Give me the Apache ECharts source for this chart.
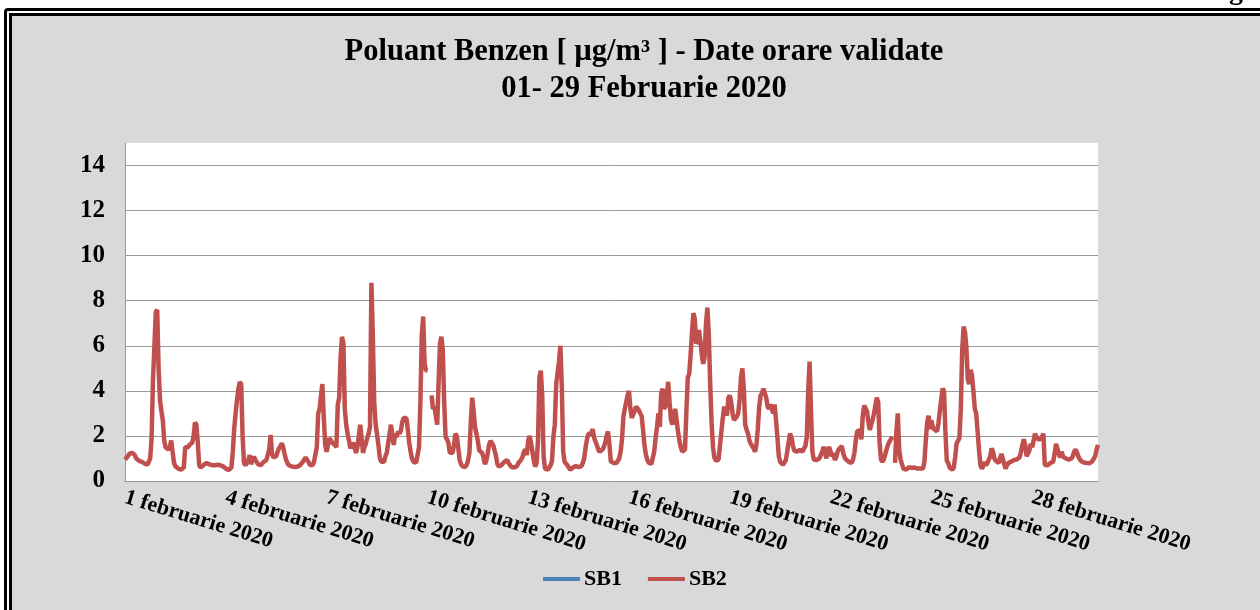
<!DOCTYPE html>
<html>
<head>
<meta charset="utf-8">
<script src="https://cdn.jsdelivr.net/npm/echarts@6/dist/echarts.min.js"></script>
<style>
  html, body { margin: 0; padding: 0; background: #fff; width: 1260px; height: 610px; overflow: hidden; }
  .frame { position: absolute; left: 4px; top: 8px; width: 1300px; height: 700px; border: 3px solid #000; border-radius: 4px 0 0 0; padding: 2px; background: #fff; }
  .frame-in { width: 100%; height: 100%; border: 3px solid #000; background: #d9d9d9; box-sizing: border-box; }
  #chart { position: absolute; left: 0; top: 0; width: 1260px; height: 610px; }
</style>
</head>
<body>
<div class="frame"><div class="frame-in"></div></div>
<div id="chart"></div>
<script>
// valori orare benzen SB2, cate 24 pe zi (ora 0..23)
var feb01 = [0.95,1.0,1.1,1.2,1.2,1.25,1.3,1.15,1.0,0.95,0.9,0.88,0.85,0.8,0.78,0.75,0.72,0.75,1.0,1.9,4.5,6.0,7.5,7.6];
var feb02 = [5.0,3.6,3.1,2.7,1.8,1.5,1.45,1.4,1.5,1.8,1.3,0.8,0.65,0.6,0.55,0.55,0.5,0.5,0.6,1.5,1.55,1.5,1.6,1.6];
var feb03 = [1.7,2.0,2.6,2.5,1.7,0.7,0.6,0.65,0.7,0.75,0.8,0.8,0.75,0.75,0.7,0.7,0.7,0.7,0.72,0.7,0.7,0.68,0.65,0.6];
var feb04 = [0.55,0.52,0.49,0.55,0.6,1.3,2.3,3.0,3.6,4.1,4.4,4.3,2.0,0.8,0.7,0.64,0.9,1.15,0.75,0.7,1.08,0.95,0.85,0.75];
var feb05 = [0.7,0.7,0.75,0.85,0.93,0.93,0.93,1.4,2.04,1.2,1.05,1.0,1.1,1.3,1.45,1.55,1.67,1.5,1.2,0.95,0.8,0.7,0.68,0.65];
var feb06 = [0.64,0.62,0.62,0.63,0.65,0.7,0.75,0.85,0.95,1.05,1.05,0.85,0.72,0.65,0.7,0.85,0.93,1.5,3.0,3.2,3.8,4.3,2.8,1.6];
var feb07 = [1.3,1.6,1.9,1.85,1.7,1.65,1.6,1.5,3.4,3.7,5.5,6.4,6.1,3.2,2.5,2.1,1.8,1.45,1.6,1.7,1.5,1.25,1.5,2.0];
var feb08 = [2.5,1.9,1.25,1.5,1.65,1.9,2.1,2.4,8.8,6.5,3.5,2.55,2.5,1.6,1.05,0.85,0.8,0.85,1.1,1.25,1.3,2.1,2.5,2.0];
var feb09 = [1.6,2.1,1.95,2.2,2.1,2.2,2.6,2.8,2.85,2.8,2.3,1.7,1.3,1.0,0.85,0.8,0.82,0.9,1.5,3.5,6.5,7.3,5.2,4.9];
var feb10 = [4.9,null,null,3.8,3.2,3.3,2.9,2.5,4.4,6.1,6.4,5.8,3.5,1.95,1.85,1.7,1.25,1.2,1.25,1.6,2.1,2.0,1.5,0.95];
var feb11 = [0.75,0.65,0.6,0.62,0.71,0.9,1.24,2.6,3.7,3.1,2.4,2.4,1.8,1.35,1.3,1.25,1.08,0.75,0.88,1.2,1.6,1.78,1.72,1.6];
var feb12 = [1.55,1.1,0.75,0.64,0.66,0.71,0.78,0.85,0.9,0.93,0.8,0.71,0.62,0.58,0.6,0.63,0.66,0.8,0.8,0.95,1.08,1.3,1.4,1.15];
var feb13 = [1.8,2.0,1.7,1.3,0.9,0.64,0.8,1.8,4.6,4.9,3.8,1.1,0.55,0.52,0.5,0.52,0.7,0.9,1.96,2.5,4.3,4.8,5.3,6.0];
var feb14 = [4.2,1.3,0.85,0.78,0.7,0.6,0.5,0.55,0.6,0.63,0.66,0.64,0.62,0.6,0.66,0.8,1.0,1.5,1.85,2.1,2.1,2.1,2.3,1.95];
var feb15 = [1.75,1.6,1.4,1.3,1.3,1.4,1.5,1.7,2.0,2.2,1.65,0.87,0.82,0.8,0.8,0.8,0.85,1.0,1.3,1.85,2.85,3.2,3.25,3.8];
var feb16 = [4.0,3.2,2.8,2.85,3.1,3.3,3.3,3.15,3.0,2.9,2.3,1.6,1.2,0.95,0.82,0.8,0.75,0.8,1.3,1.9,2.4,3.0,2.4,3.9];
var feb17 = [4.1,3.2,3.3,3.8,4.4,3.5,2.7,2.5,2.9,3.2,2.7,2.2,1.8,1.5,1.3,1.25,1.4,3.1,4.6,4.75,5.6,6.6,7.45,7.2];
var feb18 = [6.1,6.2,6.7,6.2,5.6,5.2,5.5,7.0,7.7,6.5,4.3,2.6,1.5,1.05,0.9,0.87,0.95,1.0,2.2,2.8,3.3,3.1,2.9,3.7];
var feb19 = [3.8,3.5,3.0,2.7,2.64,2.86,3.0,3.6,4.6,5.0,4.1,2.5,2.27,2.1,1.8,1.65,1.55,1.45,1.3,1.6,2.3,3.3,3.8,3.9];
var feb20 = [4.1,4.1,3.7,3.3,3.2,3.4,3.2,3.0,3.4,2.7,1.95,1.1,0.85,0.8,0.72,0.8,0.93,1.3,1.7,2.1,1.95,1.6,1.35,1.3];
var feb21 = [1.3,1.24,1.38,1.35,1.3,1.45,1.55,1.95,4.0,5.3,3.1,1.3,0.95,0.93,0.93,0.95,1.0,1.08,1.3,1.52,1.6,1.0,1.4,1.5];
var feb22 = [1.45,1.1,1.24,0.93,1.05,1.3,1.42,1.5,1.55,1.24,1.05,0.95,0.9,0.85,0.82,0.8,0.95,1.25,1.8,2.2,2.25,2.25,1.85,2.9];
var feb23 = [3.35,3.35,3.1,2.6,2.27,2.35,2.7,3.0,3.35,3.7,3.5,1.7,0.95,0.86,0.95,1.0,1.4,1.6,1.75,1.85,1.96,null,0.8,2.2];
var feb24 = [3.0,1.4,0.95,0.75,0.55,0.62,0.5,0.55,0.62,0.58,0.58,0.6,0.6,0.58,0.55,0.52,0.55,0.5,0.55,0.85,1.8,2.6,2.9,2.3];
var feb25 = [2.7,2.4,2.3,2.35,2.2,2.55,3.1,3.6,4.1,4.0,2.2,0.9,0.8,0.6,0.52,0.5,0.6,1.08,1.67,1.75,1.9,3.2,5.8,6.85];
var feb26 = [6.6,5.9,4.5,4.3,4.93,4.7,4.0,3.2,3.0,2.2,1.4,0.7,0.55,0.65,0.85,0.7,0.8,0.95,1.08,1.45,1.3,1.0,0.9,0.85];
var feb27 = [0.8,1.0,1.2,1.0,0.75,0.55,0.7,0.8,0.85,0.86,0.88,0.93,0.93,0.95,1.0,1.05,1.3,1.6,1.85,1.6,1.1,1.08,1.35,1.65];
var feb28 = [1.5,1.5,2.1,2.17,1.85,1.8,1.85,1.96,2.1,0.71,0.65,0.7,0.75,0.8,0.83,0.86,1.2,1.65,1.45,1.2,1.05,1.3,1.08,1.02];
var feb29 = [1.0,0.97,0.95,0.93,1.0,1.1,1.3,1.4,1.26,1.08,0.97,0.88,0.84,0.82,0.8,0.8,0.79,0.79,0.82,0.88,0.93,1.1,1.4,1.6];

var days = [feb01,feb02,feb03,feb04,feb05,feb06,feb07,feb08,feb09,feb10,feb11,feb12,feb13,feb14,
  feb15,feb16,feb17,feb18,feb19,feb20,feb21,feb22,feb23,feb24,feb25,feb26,feb27,feb28,feb29];

// SB1 nu are date validate in luna
var sb1 = [];
var sb2 = [].concat.apply([], days);

var categories = [];
days.forEach(function (d, i) {
  for (var h = 0; h < 24; h++) {
    categories.push((i + 1) + ' februarie 2020' + (h ? ' ' + (h < 10 ? '0' : '') + h + ':00' : ''));
  }
});

var yTicks = [0, 2, 4, 6, 8, 10, 12, 14];

var font = 'Liberation Serif, Times New Roman, serif';
var chart = echarts.init(document.getElementById('chart'));
var option = {
  backgroundColor: 'transparent',
  title: {
    text: 'Poluant Benzen [ µg/m³ ] - Date orare validate\n01- 29 Februarie 2020',
    left: 639,
    textAlign: 'center',
    top: 29,
    textStyle: { fontFamily: font, fontWeight: 'bold', fontSize: 30.5, lineHeight: 37, color: '#000' }
  },
  legend: {
    left: 538,
    top: 563,
    icon: 'rect',
    itemWidth: 37,
    itemHeight: 4,
    itemGap: 26,
    data: ['SB1', 'SB2'],
    textStyle: { fontFamily: font, fontWeight: 'bold', fontSize: 22, color: '#000', padding: [0, 0, 0, -1] }
  },
  grid: {
    left: 125, right: 162, top: 143, bottom: 129,
    show: true, backgroundColor: '#fff', borderWidth: 0
  },
  xAxis: {
    type: 'category',
    data: categories,
    boundaryGap: false,
    axisLine: { lineStyle: { color: '#999', width: 1 } },
    axisTick: { show: false },
    axisLabel: {
      interval: 71,
      rotate: -17,
      margin: 16,
      fontFamily: font, fontWeight: 'bold', fontSize: 22, color: '#000',
      formatter: function (v) { return v.split(' ').slice(0, 3).join(' '); }
    }
  },
  yAxis: {
    type: 'value',
    min: 0,
    max: 15,
    interval: 2,
    axisLine: { show: true, lineStyle: { color: '#999', width: 1 } },
    axisTick: { show: false },
    axisLabel: {
      showMaxLabel: false,
      margin: 20,
      fontFamily: font, fontWeight: 'bold', fontSize: 25, color: '#000',
      formatter: function (v) { return yTicks.indexOf(v) >= 0 ? String(v) : ''; }
    },
    splitLine: { showMaxLine: false, lineStyle: { color: '#999', width: 1 } }
  },
  series: [
    {
      name: 'SB1', type: 'line', data: sb1, symbol: 'none',
      itemStyle: { color: '#4f81bd' }, lineStyle: { color: '#4f81bd', width: 4.5 }
    },
    {
      name: 'SB2', type: 'line', data: sb2, symbol: 'none',
      itemStyle: { color: '#c0504d' }, lineStyle: { color: '#c0504d', width: 4.5 }
    }
  ],
  graphic: [{
    type: 'text', left: 1229, top: -22,
    style: { text: 'g', font: 'bold 28px ' + font, fill: '#000' }
  }]
};
chart.setOption(option);
</script>
</body>
</html>
